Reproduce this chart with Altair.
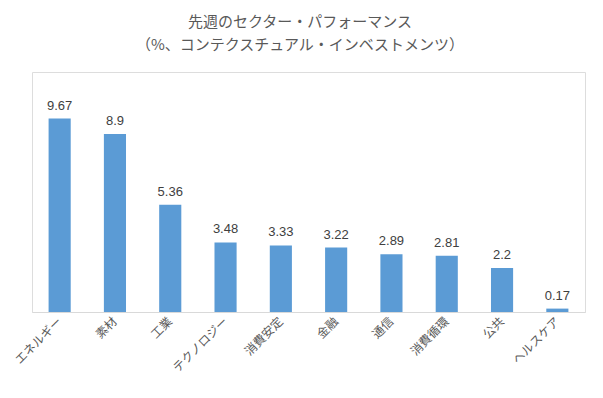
import altair as alt
import pandas as pd

categories = ["エネルギー", "素材", "工業", "テクノロジー", "消費安定", "金融", "通信", "消費循環", "公共", "ヘルスケア"]
values = [9.67, 8.9, 5.36, 3.48, 3.33, 3.22, 2.89, 2.81, 2.2, 0.17]
labels = ["9.67", "8.9", "5.36", "3.48", "3.33", "3.22", "2.89", "2.81", "2.2", "0.17"]
title_lines = ["先週のセクター・パフォーマンス", "（%、コンテクスチュアル・インベストメンツ）"]

df = pd.DataFrame({"sector": categories, "value": values, "label": labels})

FONT = "Noto Sans CJK JP"

x = alt.X("sector:N", sort=None, title=None,
          scale=alt.Scale(paddingInner=0.6, paddingOuter=0.3),
          axis=alt.Axis(labelAngle=-45, labelAlign="right", labelBaseline="middle",
                        labelFont=FONT, labelFontSize=12, labelColor="#595959",
                        labelPadding=7, ticks=False, domainColor="#d9d9d9",
                        domainWidth=1, labelOverlap=False))
y = alt.Y("value:Q", title=None, scale=alt.Scale(domain=[0, 12], nice=False),
          axis=None)

bars = alt.Chart(df).mark_bar(color="#5B9BD5").encode(x=x, y=y)
text = alt.Chart(df).mark_text(baseline="bottom", dy=-6, font="Liberation Sans",
                               fontSize=13, color="#404040").encode(
    x=alt.X("sector:N", sort=None), y="value:Q", text="label:N")

def title_line(s, ypos):
    return alt.Chart(pd.DataFrame({"line": [s]})).mark_text(
        font=FONT, fontSize=15, color="#595959", align="center", baseline="middle"
    ).encode(x=alt.value(268), y=alt.value(ypos), text="line:N")

chart = alt.layer(bars, text, title_line(title_lines[0], -50),
                  title_line(title_lines[1], -27)).properties(
    width=553, height=240,
    padding={"left": 24, "top": 64, "right": 10, "bottom": 78},
    autosize=alt.AutoSizeParams(type="none"),
).configure_view(stroke=None).configure(background="white")

chart.save("out.html", embed_options={"renderer": "svg", "actions": False})
